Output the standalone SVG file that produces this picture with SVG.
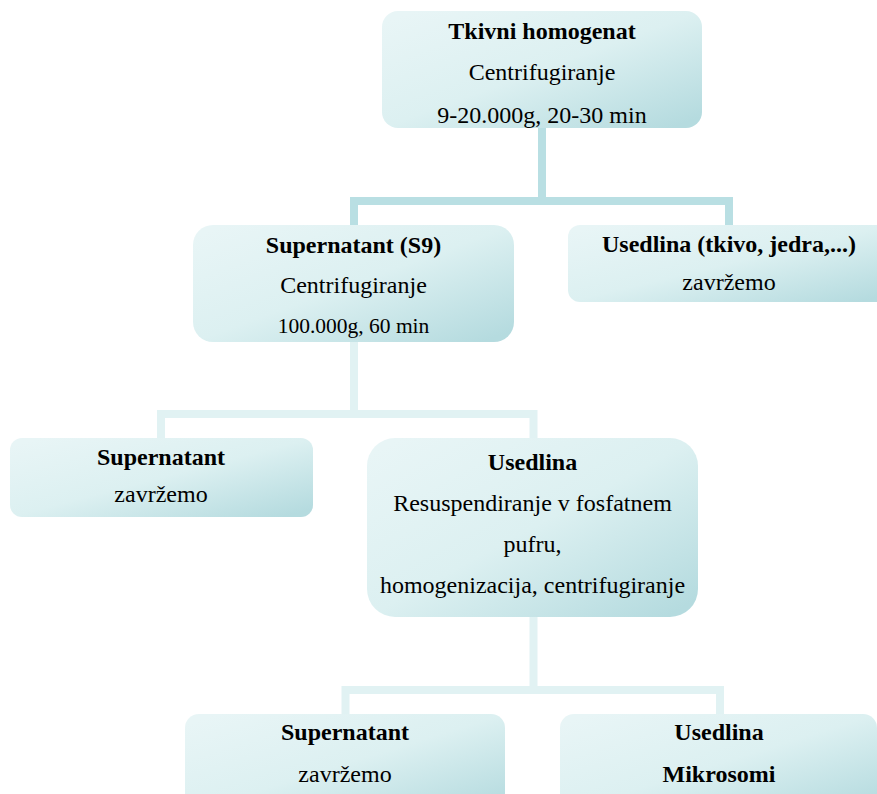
<svg xmlns="http://www.w3.org/2000/svg" width="877" height="794" viewBox="0 0 877 794">
<defs>
<linearGradient id="g" x1="0" y1="0.1" x2="0.9" y2="1">
<stop offset="0" stop-color="#e8f5f6"/>
<stop offset="0.5" stop-color="#dcf0f1"/>
<stop offset="1" stop-color="#b5dbdf"/>
</linearGradient>
<clipPath id="c1"><rect x="382" y="11" width="320" height="117" rx="16"/></clipPath>
</defs>
<style>
.box{fill:url(#g);}
.t{font-family:"Liberation Serif","Times New Roman",serif;font-size:24px;fill:#000;text-anchor:middle;}
.b{font-weight:bold;}
.c1{fill:none;stroke:#b9dfe3;stroke-width:8;}
.c2{fill:none;stroke:#e1f2f3;stroke-width:8;}
</style>
<g id="connectors">
<path class="c1" d="M542,128 V201 M354,225 V201 H729 V225"/>
<path class="c2" d="M354,342 V414 M161,438 V414 H533.5 V438"/>
<path class="c2" d="M533.5,617 V690 M345.5,714 V690 H720 V714"/>
</g>
<g id="n1">
<rect class="box" x="382" y="11" width="320" height="117" rx="16"/>
<g clip-path="url(#c1)">
<text class="t b" x="542" y="39">Tkivni homogenat</text>
<text class="t" x="542" y="80">Centrifugiranje</text>
<text class="t" x="542" y="123">9-20.000g, 20-30 min</text>
</g>
</g>
<g id="n2">
<rect class="box" x="193" y="225" width="321" height="117" rx="20"/>
<text class="t b" x="353.5" y="253">Supernatant (S9)</text>
<text class="t" x="353.5" y="293">Centrifugiranje</text>
<text class="t" x="353.5" y="333" style="font-size:21.5px">100.000g, 60 min</text>
</g>
<g id="n3">
<rect class="box" x="568" y="225" width="322" height="77" rx="12"/>
<text class="t b" x="729" y="252">Usedlina (tkivo, jedra,...)</text>
<text class="t" x="729" y="290">zavržemo</text>
</g>
<g id="n4">
<rect class="box" x="10" y="438" width="303" height="79" rx="12"/>
<text class="t b" x="161" y="465">Supernatant</text>
<text class="t" x="161" y="502">zavržemo</text>
</g>
<g id="n5">
<rect class="box" x="367" y="438" width="331" height="179" rx="28"/>
<text class="t b" x="532.5" y="470">Usedlina</text>
<text class="t" x="532.5" y="511">Resuspendiranje v fosfatnem</text>
<text class="t" x="532.5" y="552">pufru,</text>
<text class="t" x="532.5" y="593">homogenizacija, centrifugiranje</text>
</g>
<g id="n6">
<rect class="box" x="185" y="714" width="320" height="100" rx="14"/>
<text class="t b" x="345" y="740">Supernatant</text>
<text class="t" x="345" y="782">zavržemo</text>
</g>
<g id="n7">
<rect class="box" x="560" y="714" width="317" height="100" rx="14"/>
<text class="t b" x="719" y="740">Usedlina</text>
<text class="t b" x="719" y="782">Mikrosomi</text>
</g>
</svg>
